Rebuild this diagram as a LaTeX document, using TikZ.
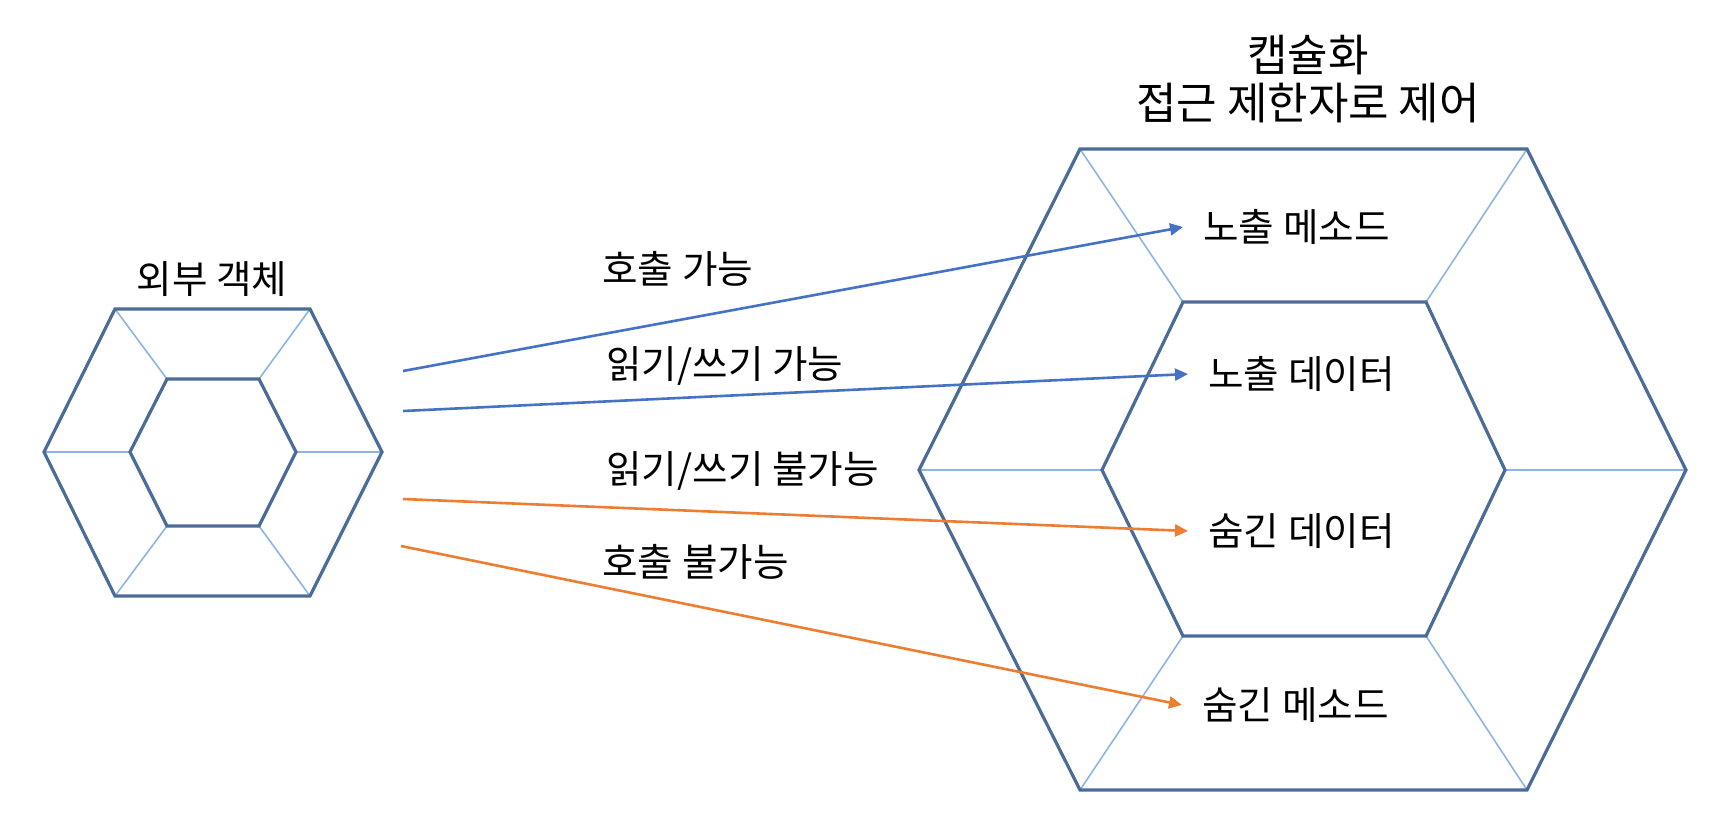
\documentclass[tikz,border=0pt]{standalone}
\usepackage{fontspec}
\setmainfont{Noto Sans CJK KR}
\usepackage{xcolor}
\usepackage{tikz}
\usetikzlibrary{positioning}
\usetikzlibrary{arrows.meta}
\definecolor{hexedge}{HTML}{4A6C96}
\definecolor{hexspoke}{HTML}{8DB4E2}
\definecolor{openblue}{HTML}{4472C4}
\definecolor{hiddenorange}{HTML}{ED7D31}
\tikzset{
  hex edge/.style={draw=hexedge, line width=1.6pt, line join=miter},
  hex spoke/.style={draw=hexspoke, line width=0.8pt},
  label text/.style={font=\fontsize{19.3}{23}\selectfont, inner sep=0pt},
  title text/.style={font=\fontsize{22}{26}\selectfont, inner sep=0pt},
  member text/.style={font=\fontsize{19.3}{23}\selectfont, inner xsep=10pt, inner ysep=0pt, anchor=west},
  open edge/.style={draw=openblue, line width=1.3pt, -{Triangle[length=6.5pt,width=6pt]}},
  hidden edge/.style={draw=hiddenorange, line width=1.3pt, -{Triangle[length=6.5pt,width=6pt]}},
}

\begin{document}
\begin{tikzpicture}[x=0.5pt, y=-0.5pt]

  \useasboundingbox (0,0) rectangle (1720,820);

  % Outer object (small hexagon)
  \coordinate (so1) at (44,452);
  \coordinate (so2) at (115,309);
  \coordinate (so3) at (310,309);
  \coordinate (so4) at (382,452);
  \coordinate (so5) at (310,596);
  \coordinate (so6) at (115,596);
  \coordinate (si1) at (130,452);
  \coordinate (si2) at (167,379);
  \coordinate (si3) at (259,379);
  \coordinate (si4) at (296,452);
  \coordinate (si5) at (259,526);
  \coordinate (si6) at (167,526);

  \draw[hex spoke] (so1) -- (si1);
  \draw[hex spoke] (so2) -- (si2);
  \draw[hex spoke] (so3) -- (si3);
  \draw[hex spoke] (so4) -- (si4);
  \draw[hex spoke] (so5) -- (si5);
  \draw[hex spoke] (so6) -- (si6);
  \draw[hex edge] (so1) -- (so2) -- (so3) -- (so4) -- (so5) -- (so6) -- cycle;
  \draw[hex edge] (si1) -- (si2) -- (si3) -- (si4) -- (si5) -- (si6) -- cycle;

  % Encapsulated object (big hexagon)
  \coordinate (bo1) at (919,470);
  \coordinate (bo2) at (1080,149);
  \coordinate (bo3) at (1527,149);
  \coordinate (bo4) at (1686,470);
  \coordinate (bo5) at (1527,790);
  \coordinate (bo6) at (1080,790);
  \coordinate (bi1) at (1102,470);
  \coordinate (bi2) at (1183,302);
  \coordinate (bi3) at (1426,302);
  \coordinate (bi4) at (1505,470);
  \coordinate (bi5) at (1426,636);
  \coordinate (bi6) at (1183,636);

  \draw[hex spoke] (bo1) -- (bi1);
  \draw[hex spoke] (bo2) -- (bi2);
  \draw[hex spoke] (bo3) -- (bi3);
  \draw[hex spoke] (bo4) -- (bi4);
  \draw[hex spoke] (bo5) -- (bi5);
  \draw[hex spoke] (bo6) -- (bi6);
  \draw[hex edge] (bo1) -- (bo2) -- (bo3) -- (bo4) -- (bo5) -- (bo6) -- cycle;
  \draw[hex edge] (bi1) -- (bi2) -- (bi3) -- (bi4) -- (bi5) -- (bi6) -- cycle;

  % Define nodes
  \node[label text] (outer) at (212,279) {외부 객체};
  \node[title text] (encap) at (1308,55) {캡슐화};
  \node[title text] (access) at (1308,103) {접근 제한자로 제어};

  \node[member text] (expmethod) at (1183,227) {노출 메소드};
  \node[member text] (expdata) at (1188,374) {노출 데이터};
  \node[member text] (hiddata) at (1188,531) {숨긴 데이터};
  \node[member text] (hidmethod) at (1182,705) {숨긴 메소드};

  \node[label text, anchor=west] (callok) at (602,269) {호출 가능};
  \node[label text, anchor=west] (rwok) at (606,366) {읽기/쓰기 가능};
  \node[label text, anchor=west] (rwno) at (606,471) {읽기/쓰기 불가능};
  \node[label text, anchor=west] (callno) at (602,562) {호출 불가능};

  \coordinate (src1) at (403,371);
  \coordinate (src2) at (403,411);
  \coordinate (src3) at (403,499);
  \coordinate (src4) at (401,546);

  % Connect nodes
  \draw[open edge] (src1) -- (expmethod.west);
  \draw[open edge] (src2) -- (expdata.west);
  \draw[hidden edge] (src3) -- (hiddata.west);
  \draw[hidden edge] (src4) -- (hidmethod.west);

\end{tikzpicture}
\end{document}
